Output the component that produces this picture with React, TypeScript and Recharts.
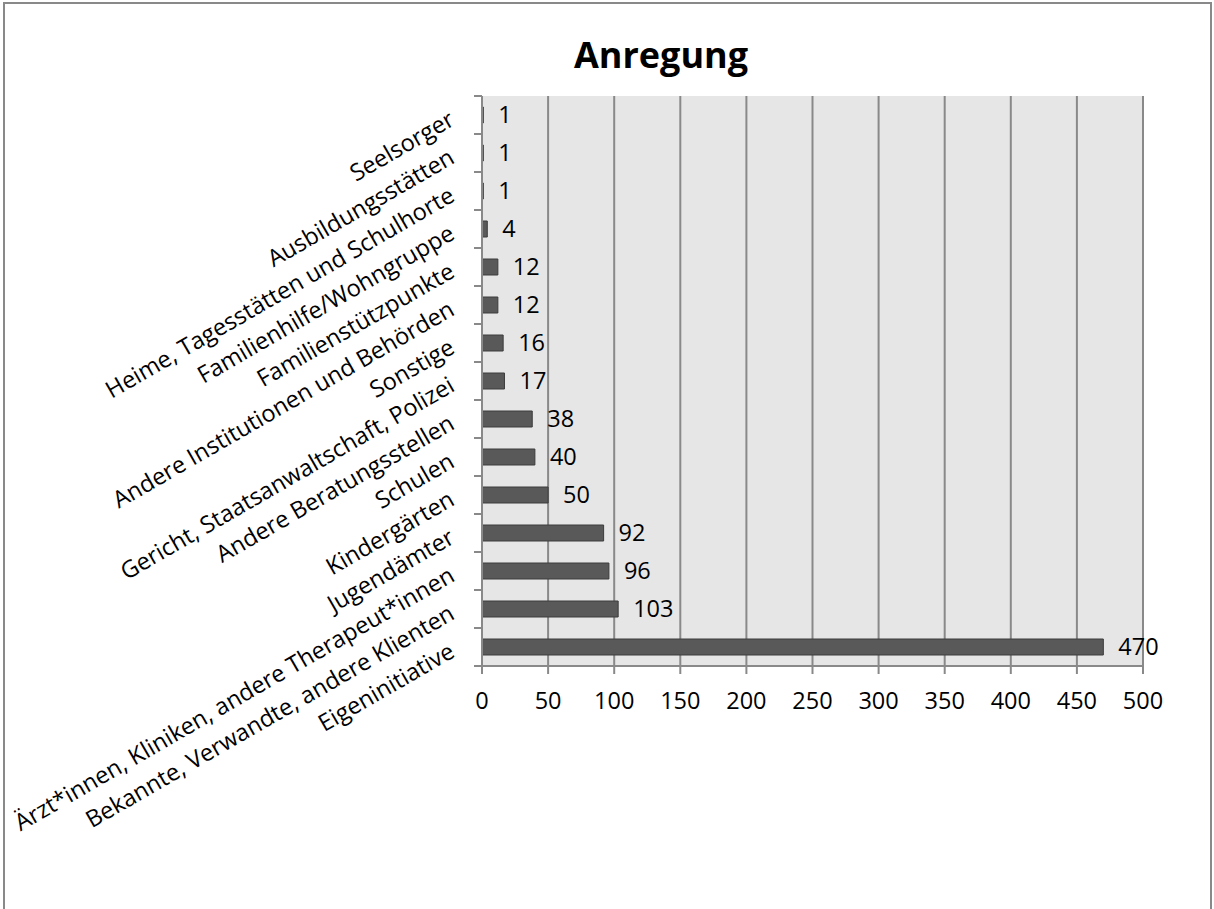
import React from 'react';
import {
  BarChart,
  Bar,
  XAxis,
  YAxis,
  CartesianGrid,
  LabelList,
} from 'recharts';

// Sources of referral, top to bottom as shown
const categories = [
  'Seelsorger',
  'Ausbildungsstätten',
  'Heime, Tagesstätten und Schulhorte',
  'Familienhilfe/Wohngruppe',
  'Familienstützpunkte',
  'Andere Institutionen und Behörden',
  'Sonstige',
  'Gericht, Staatsanwaltschaft, Polizei',
  'Andere Beratungsstellen',
  'Schulen',
  'Kindergärten',
  'Jugendämter',
  'Ärzt*innen, Kliniken, andere Therapeut*innen',
  'Bekannte, Verwandte, andere Klienten',
  'Eigeninitiative',
];
const counts = [1, 1, 1, 4, 12, 12, 16, 17, 38, 40, 50, 92, 96, 103, 470];
const xTicks = [0, 50, 100, 150, 200, 250, 300, 350, 400, 450, 500];

const data = categories.map((name, i) => ({ name, value: counts[i] }));

const W = 1214;
const H = 909;
const TOP = 96;
const BOTTOM = 666;
const AXIS_X = 482;
const BAND = (BOTTOM - TOP) / categories.length;
const FONT = '"Open Sans", sans-serif';
const GRAY = '#898989';

// category label rotated up-left, with tick marks on the band edges
function CategoryTick(props: any) {
  const { y, payload, index } = props;
  const tx = AXIS_X - 30;
  const ty = y + 2;
  return (
    <g>
      <line x1={AXIS_X - 8} x2={AXIS_X} y1={y - BAND / 2} y2={y - BAND / 2} stroke={GRAY} strokeWidth={2} />
      {index === categories.length - 1 && (
        <line x1={AXIS_X - 8} x2={AXIS_X} y1={y + BAND / 2} y2={y + BAND / 2} stroke={GRAY} strokeWidth={2} />
      )}
      <text
        x={tx}
        y={ty}
        dy="0.35em"
        textAnchor="end"
        transform={`rotate(-30, ${tx}, ${ty})`}
        fontFamily={FONT}
        fontSize={23.5}
        fill="#000"
      >
        {payload.value}
      </text>
    </g>
  );
}

export default function App() {
  return (
    <div style={{ position: 'absolute', left: 0, top: 0, width: W, height: H, background: '#fff', overflow: 'hidden' }}>
      <div
        style={{
          position: 'absolute',
          left: 3,
          top: 2,
          width: W - 5,
          height: H + 20,
          border: `2px solid ${GRAY}`,
          boxSizing: 'border-box',
        }}
      />
      <svg style={{ position: 'absolute', left: 0, top: 0 }} width={W} height={90}>
        <text x={661} y={68} textAnchor="middle" fontFamily={FONT} fontWeight="bold" fontSize={36} fill="#000">
          Anregung
        </text>
      </svg>
      <div style={{ position: 'absolute', left: 0, top: 0 }}>
        <BarChart
          width={W}
          height={H}
          data={data}
          layout="vertical"
          margin={{ top: TOP, right: W - 1143, left: 0, bottom: H - BOTTOM - 40 }}
          barSize={16}
        >
          <CartesianGrid horizontal={false} stroke={GRAY} strokeWidth={2} fill="#e6e6e6" />
          <XAxis
            type="number"
            domain={[0, 500]}
            ticks={xTicks}
            interval={0}
            height={40}
            tickSize={8}
            tickMargin={18}
            axisLine={{ stroke: GRAY, strokeWidth: 2 }}
            tickLine={{ stroke: GRAY, strokeWidth: 2 }}
            tick={{ fill: '#000', fontSize: 23.5, fontFamily: FONT }}
          />
          <YAxis
            type="category"
            dataKey="name"
            width={AXIS_X}
            interval={0}
            axisLine={{ stroke: GRAY, strokeWidth: 2 }}
            tickLine={false}
            tick={<CategoryTick />}
          />
          <Bar dataKey="value" fill="#595959" stroke="#3c3c3c" strokeWidth={1} isAnimationActive={false}>
            <LabelList dataKey="value" position="right" offset={15} fill="#000" fontSize={23.5} fontFamily={FONT} />
          </Bar>
        </BarChart>
      </div>
    </div>
  );
}
